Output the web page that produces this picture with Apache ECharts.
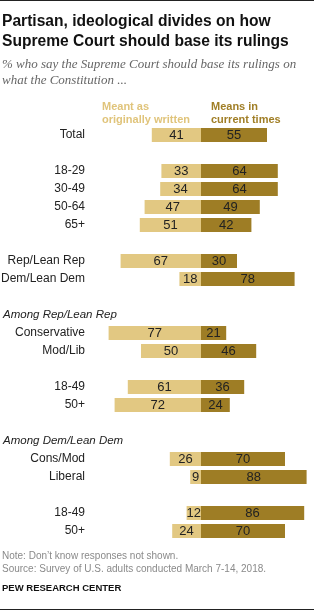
<!DOCTYPE html>
<html>
<head>
  <meta charset="UTF-8">
  <title>Supreme Court rulings</title>
  <script src="https://cdn.jsdelivr.net/npm/echarts@6/dist/echarts.min.js"></script>
  <style>
    html, body { margin: 0; padding: 0; background: #fff; }
    #chart { width: 314px; height: 611px; }
  </style>
</head>
<body>
<div id="chart"></div>
<script>
// rows top to bottom; '' = spacer row, '#...' = group heading
var categories = ['Total', '', '18-29', '30-49', '50-64', '65+', '',
  'Rep/Lean Rep', 'Dem/Lean Dem', '',
  '#Among Rep/Lean Rep', 'Conservative', 'Mod/Lib', '', '18-49', '50+', '',
  '#Among Dem/Lean Dem', 'Cons/Mod', 'Liberal', '', '18-49 ', '50+ '];
var originally = [41, null, 33, 34, 47, 51, null, 67, 18, null, null, 77, 50, null, 61, 72, null, null, 26, 9, null, 12, 24];
var currentTimes = [55, null, 64, 64, 49, 42, null, 30, 78, null, null, 21, 46, null, 36, 24, null, null, 70, 88, null, 86, 70];

var LIGHT = '#E2C882';
var DARK = '#9E7D25';
var FONT = 'Liberation Sans, Arial, sans-serif';

var chart = echarts.init(document.getElementById('chart'));

var option = {
  animation: false,
  grid: { left: 105, right: 5, top: 126, height: 414, containLabel: false, outerBoundsMode: 'none' },
  xAxis: {
    type: 'value', min: -80, max: 90, show: false
  },
  yAxis: {
    type: 'category',
    data: categories,
    inverse: true,
    axisLine: { show: false },
    axisTick: { show: false },
    splitLine: { show: false },
    axisLabel: {
      margin: 20,
      interval: 0,
      fontFamily: FONT,
      fontSize: 12,
      color: '#222',
      formatter: function (v) {
        if (v.charAt(0) === '#') return '{h|' + v.slice(1) + '}';
        return v.trim();
      },
      rich: {
        h: { width: 82, align: 'left', fontStyle: 'italic', fontSize: 11.5, color: '#222', fontFamily: FONT }
      }
    }
  },
  series: [
    {
      type: 'bar', stack: 'a', barWidth: 14,
      data: originally.map(function (v) { return v == null ? null : -v; }),
      itemStyle: { color: LIGHT },
      label: {
        show: true, position: 'inside', color: '#222', fontFamily: FONT, fontSize: 13,
        formatter: function (p) { return Math.abs(p.value); }
      }
    },
    {
      type: 'bar', stack: 'a', barWidth: 14,
      data: currentTimes,
      itemStyle: { color: DARK },
      label: { show: true, position: 'inside', color: '#222', fontFamily: FONT, fontSize: 13 }
    }
  ],
  graphic: [
    { type: 'rect', shape: { x: 0, y: 0, width: 314, height: 1 }, style: { fill: '#222' } },
    { type: 'text', left: 2, top: 12, style: { text: 'Partisan, ideological divides on how\nSupreme Court should base its rulings', font: 'bold 15.6px ' + FONT, fill: '#111', lineHeight: 20 } },
    { type: 'text', left: 2, top: 57, style: { text: '% who say the Supreme Court should base its rulings on\nwhat the Constitution ...', font: 'italic 13px Liberation Serif, serif', fill: '#666', lineHeight: 16 } },
    { type: 'text', right: 124, top: 100, style: { text: 'Meant as\noriginally written', font: 'bold 11px ' + FONT, fill: '#E0C47B', align: 'right', lineHeight: 13 } },
    { type: 'text', left: 211, top: 100, style: { text: 'Means in\ncurrent times', font: 'bold 11px ' + FONT, fill: '#A07E26', lineHeight: 13 } },
    { type: 'text', left: 2, top: 550, style: { text: 'Note: Don\u2019t know responses not shown.\nSource: Survey of U.S. adults conducted March 7-14, 2018.', font: '10px ' + FONT, fill: '#8a8a8a', lineHeight: 12.5 } },
    { type: 'text', left: 2, top: 583, style: { text: 'PEW RESEARCH CENTER', font: 'bold 9.5px ' + FONT, fill: '#111' } },
    { type: 'rect', shape: { x: 0, y: 609, width: 314, height: 1 }, style: { fill: '#222' } }
  ]
};

chart.setOption(option);
</script>
</body>
</html>
